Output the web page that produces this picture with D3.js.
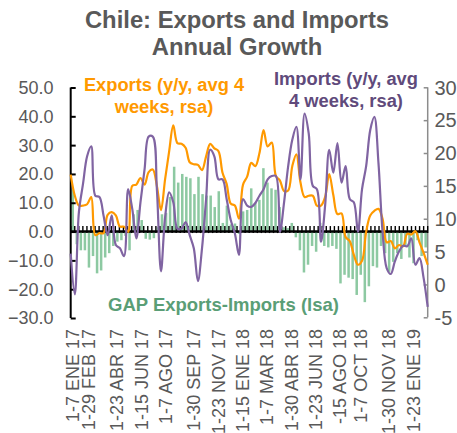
<!DOCTYPE html>
<html>
<head>
<meta charset="utf-8">
<script src="https://cdn.jsdelivr.net/npm/d3@7"></script>
<style>
  html, body { margin: 0; padding: 0; background: #fff; }
  svg { display: block; font-family: "Liberation Sans", Arial, sans-serif; }
</style>
</head>
<body>
<svg id="chart"></svg>
<script>
// x labels, text as it shows on the chart, and the week each one sits on
var dateLabels = ["1-7 ENE 17", "1-29 FEB 17", "1-23 ABR 17", "1-15 JUN 17", "1-7 AGO 17",
  "1-30 SEP 17", "1-23 NOV 17", "1-15 ENE 18", "1-7 MAR 18", "1-30 ABR 18",
  "1-23 JUN 18", "-15 AGO 18", "1-7 OCT 18", "1-30 NOV 18", "1-23 ENE 19"];
var labelWeeks = [0, 4, 11, 17, 23, 30, 36, 42, 48, 54, 60, 66, 71, 78, 84];

// exports y/y, avg 4 weeks (right axis)
var exportsYoY = [16.7, 13.5, 12.0, 12.0, 12.2, 13.3, 7.5, 7.8, 7.8, 10.6,
  11.0, 10.5, 8.8, 8.8, 8.0, 15.0, 15.2, 16.2, 15.2, 17.1,
  17.5, 15.0, 11.3, 16.0, 20.3, 24.2, 21.5, 21.4, 20.8, 18.6,
  18.3, 18.2, 17.4, 19.5, 21.4, 20.7, 20.3, 17.0, 15.3, 12.3,
  12.0, 10.0, 15.2, 16.4, 18.5, 18.0, 20.0, 23.5, 21.0, 21.6,
  16.5, 15.8, 14.2, 14.3, 18.0, 19.8, 15.5, 13.3, 13.5, 13.5,
  12.0, 12.0, 13.3, 16.8, 13.6, 10.7, 10.8, 7.2, 6.6, 4.5,
  3.0, 3.6, 8.0, 10.5, 11.2, 11.5, 10.0, 6.4, 6.6, 5.5,
  6.0, 5.8, 7.7, 7.6, 8.1, 6.4, 4.8, 3.0];

// imports y/y, avg 4 weeks (right axis)
var importsYoY = [4.7, -1.5, 11.0, 15.3, 19.5, 21.0, 13.5, 13.3, 10.5, 7.5,
  10.5, 6.0, 5.5, 4.3, 14.5, 11.5, 7.0, 12.5, 17.5, 22.5,
  22.5, 14.5, 2.0, 10.2, 14.0, 12.5, 8.5, 8.5, 9.5, 7.5,
  5.5, 0.5, 5.5, 13.0, 20.5, 19.5, 16.0, 16.0, 13.0, 9.8,
  7.8, 4.5, 13.0, 12.0, 11.8, 12.4, 13.5, 14.5, 16.0, 16.5,
  16.5, 8.0, 12.5, 18.0, 22.0, 24.0, 16.0, 26.0, 23.0, 15.0,
  14.5, 6.5, 12.0, 20.5, 17.0, 21.5, 15.5, 18.0, 13.0, 12.5,
  8.0, 14.5, 18.0, 23.5, 25.5, 18.5, 8.0, 2.5, 1.6, 3.5,
  5.0, 5.9, 5.8, 7.0, 3.0, 4.0, 1.0, -3.4];

// GAP exports - imports (left axis)
var gapBars = [14.7, -4.4, -6.5, -6.5, -12.5, -8.5, -14.5, -13.5, -9.0, -7.5,
  -5.0, -3.5, -3.0, -1.5, -6.5, 6.0, 7.5, 4.0, -2.5, -2.8,
  -2.3, 1.5, 6.0, 6.5, 12.0, 22.5, 17.0, 20.0, 19.0, 18.5,
  13.0, 19.0, 13.0, 12.5, 12.5, 8.5, 14.0, 3.0, 9.0, 2.5,
  2.8, -0.8, 7.0, 7.5, 15.0, 10.0, 11.0, 22.0, 17.0, 15.0,
  14.5, 8.5, 1.5, 1.2, 3.0, -2.0, -6.5, -14.2, -11.5, -5.0,
  -7.0, 3.0, -5.0, -5.5, -5.0, -6.0, -18.0, -15.0, -16.0, -16.5,
  -22.0, -15.0, -24.5, -19.0, -12.0, -12.5, -5.0, -7.5, -14.0, -10.5,
  -7.5, -9.5, -5.0, -9.0, -11.0, -3.0, -8.5, -5.5];

var leftTicks = [50, 40, 30, 20, 10, 0, -10, -20, -30];
var rightTicks = [30, 25, 20, 15, 10, 5, 0, -5];

var W = 457, H = 433;
var svg = d3.select("#chart").attr("width", W).attr("height", H);

var plotL = 70.7, plotR = 427.7;

// bars use a band scale, lines sit on the secondary axis edge to edge
var x = d3.scaleBand()
  .domain(d3.range(gapBars.length))
  .range([plotL, plotR])
  .paddingInner(0.38)
  .paddingOuter(0.19);
var xLine = d3.scalePoint()
  .domain(d3.range(exportsYoY.length))
  .range([plotL, plotR]);

var yL = d3.scaleLinear().domain([-30, 50]).range([318, 87.5]);
var yR = d3.scaleLinear().domain([-5, 30]).range([317.3, 87.3]);

function cx(i) { return x(i) + x.bandwidth() / 2; }

// bars
svg.append("g")
  .selectAll("rect")
  .data(gapBars)
  .enter().append("rect")
  .attr("x", function (d, i) { return x(i); })
  .attr("width", x.bandwidth())
  .attr("y", function (d) { return yL(Math.max(d, 0)); })
  .attr("height", function (d) { return Math.abs(yL(d) - yL(0)); })
  .attr("fill", "#8dc9a2");

// left axis
var leftAxis = d3.axisRight(yL).tickValues(leftTicks).tickSize(5).tickFormat("");
var gl = svg.append("g").attr("transform", "translate(" + plotL + ",0)").call(leftAxis);
gl.selectAll("path, line").attr("stroke", "#000").attr("stroke-width", 2);
gl.select(".domain").attr("d", "M0," + yL(50) + "V" + yL(-30));

svg.append("g").selectAll("text")
  .data(leftTicks)
  .enter().append("text")
  .attr("x", 53.5)
  .attr("y", function (d) { return yL(d); })
  .attr("dy", "0.36em")
  .attr("text-anchor", "end")
  .attr("font-size", 18)
  .attr("fill", "#595959")
  .text(function (d) { return d3.format(".1f")(d); });

// right axis
var rightAxis = d3.axisLeft(yR).tickValues(rightTicks).tickSize(4).tickFormat("");
var gr = svg.append("g").attr("transform", "translate(" + plotR + ",0)").call(rightAxis);
gr.selectAll("path, line").attr("stroke", "#8c8c8c").attr("stroke-width", 1.5);
gr.select(".domain").attr("d", "M0," + yR(30) + "V" + yR(-5));

svg.append("g").selectAll("text")
  .data(rightTicks)
  .enter().append("text")
  .attr("x", 434.5)
  .attr("y", function (d) { return yR(d); })
  .attr("dy", "0.36em")
  .attr("font-size", 20)
  .attr("fill", "#595959")
  .text(function (d) { return d; });

// category axis at zero, tick on every week
var y0 = yL(0);
var step = x.step();
var tickPos = d3.range(gapBars.length + 1).map(function (k) { return plotL + k * step; });
svg.append("g").selectAll("line")
  .data(tickPos)
  .enter().append("line")
  .attr("x1", function (d) { return d; })
  .attr("x2", function (d) { return d; })
  .attr("y1", y0 - 5.5)
  .attr("y2", y0 + 1.5)
  .attr("stroke", "#000")
  .attr("stroke-width", 1.4);
svg.append("line")
  .attr("x1", plotL).attr("x2", plotR)
  .attr("y1", y0).attr("y2", y0)
  .attr("stroke", "#000").attr("stroke-width", 2.5);

// date labels
svg.append("g").selectAll("text")
  .data(dateLabels)
  .enter().append("text")
  .attr("transform", function (d, j) {
    return "translate(" + (cx(labelWeeks[j]) + 6) + ",329) rotate(-90)";
  })
  .attr("text-anchor", "end")
  .attr("font-size", 18)
  .attr("fill", "#595959")
  .text(function (d) { return d; });

// lines
var line = d3.line()
  .x(function (d, i) { return xLine(i); })
  .y(function (d) { return yR(d); })
  .curve(d3.curveCatmullRom.alpha(0.5));

svg.append("path")
  .datum(exportsYoY)
  .attr("d", line)
  .attr("fill", "none")
  .attr("stroke", "#ff9900")
  .attr("stroke-width", 2.2);

svg.append("path")
  .datum(importsYoY)
  .attr("d", line)
  .attr("fill", "none")
  .attr("stroke", "#8064a2")
  .attr("stroke-width", 2.2);

// title
var title = svg.append("text")
  .attr("text-anchor", "middle")
  .attr("font-size", 23.8)
  .attr("font-weight", "bold")
  .attr("fill", "#595959");
title.append("tspan").attr("x", 237).attr("y", 28).text("Chile: Exports and Imports");
title.append("tspan").attr("x", 237).attr("y", 55).text("Annual Growth");

// series labels
var expLab = svg.append("text")
  .attr("text-anchor", "middle")
  .attr("font-size", 18.3)
  .attr("font-weight", "bold")
  .attr("fill", "#ff9900");
expLab.append("tspan").attr("x", 164).attr("y", 91).text("Exports (y/y, avg 4");
expLab.append("tspan").attr("x", 164).attr("y", 113).text("weeks, rsa)");

var impLab = svg.append("text")
  .attr("text-anchor", "middle")
  .attr("font-size", 18.3)
  .attr("font-weight", "bold")
  .attr("fill", "#604a7b");
impLab.append("tspan").attr("x", 346).attr("y", 85).text("Imports (y/y, avg");
impLab.append("tspan").attr("x", 346).attr("y", 107).text("4 weeks, rsa)");

svg.append("text")
  .attr("x", 108)
  .attr("y", 311)
  .attr("font-size", 18.5)
  .attr("font-weight", "bold")
  .attr("fill", "#5a9e76")
  .text("GAP Exports-Imports (lsa)");
</script>
</body>
</html>
